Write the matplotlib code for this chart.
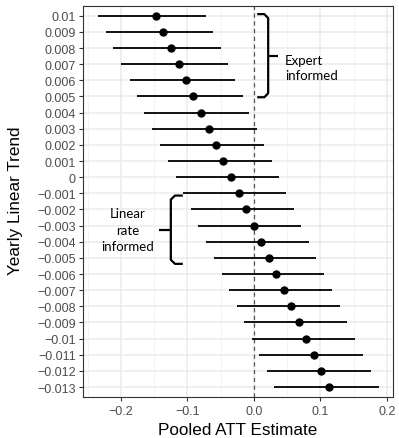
import numpy as np
import matplotlib
matplotlib.use("Agg")
import matplotlib.pyplot as plt

# =========================
# data (top row first)
# =========================
trend_labels = ["0.01", "0.009", "0.008", "0.007", "0.006", "0.005", "0.004",
                "0.003", "0.002", "0.001", "0", "\u22120.001", "\u22120.002",
                "\u22120.003", "\u22120.004", "\u22120.005", "\u22120.006",
                "\u22120.007", "\u22120.008", "\u22120.009", "\u22120.01",
                "\u22120.011", "\u22120.012", "\u22120.013"]

att_est = [-0.147, -0.136, -0.125, -0.113, -0.102, -0.091, -0.0795,
           -0.0675, -0.057, -0.046, -0.0345, -0.023, -0.0115,
           0.0, 0.011, 0.0225, 0.0335, 0.045, 0.056, 0.0675,
           0.079, 0.090, 0.1015, 0.1125]

att_low = [-0.235, -0.223, -0.212, -0.1995, -0.187, -0.176, -0.1645,
           -0.1525, -0.141, -0.129, -0.117, -0.1064, -0.095,
           -0.0835, -0.072, -0.060, -0.048, -0.037, -0.0255, -0.0145,
           -0.0025, 0.008, 0.020, 0.031]

att_high = [-0.0725, -0.061, -0.050, -0.0395, -0.0285, -0.017, -0.007,
            0.0045, 0.0155, 0.027, 0.0375, 0.0485, 0.060,
            0.0715, 0.0825, 0.094, 0.1055, 0.117, 0.129, 0.1405,
            0.152, 0.1635, 0.1755, 0.188]

x_ticks = [-0.2, -0.1, 0.0, 0.1, 0.2]
x_tick_labels = ["\u22120.2", "\u22120.1", "0.0", "0.1", "0.2"]

# =========================
# figure
# =========================
plt.rcParams["font.family"] = ["Liberation Sans", "DejaVu Sans"]

fig = plt.figure(figsize=(3.99, 4.39), dpi=100)
ax = fig.add_axes([0.2088, 0.094, 0.777, 0.890])

n = len(trend_labels)
ypos = np.arange(n)[::-1]  # top row first

# grid (theme_bw style)
for xm in [-0.25, -0.15, -0.05, 0.05, 0.15]:
    ax.axvline(xm, color="#F2F2F2", lw=0.6, zorder=0)
for xg in x_ticks:
    ax.axvline(xg, color="#EBEBEB", lw=1.1, zorder=0)
for yy in ypos:
    ax.axhline(yy, color="#EBEBEB", lw=1.1, zorder=0)

# zero reference line
ax.axvline(0, color="#555555", lw=0.9, linestyle=(0, (3.4, 2.8)), zorder=1)

# point ranges
ax.hlines(ypos, att_low, att_high, color="black", lw=1.3, zorder=2)
ax.plot(att_est, ypos, "o", color="black", markersize=5, zorder=3)

ax.set_xlim(-0.2565, 0.2097)
ax.set_ylim(-0.6, n - 1 + 0.6)
ax.set_yticks(ypos)
ax.set_yticklabels(trend_labels)
ax.set_xticks(x_ticks)
ax.set_xticklabels(x_tick_labels)

ax.tick_params(axis="both", labelsize=9, labelcolor="#4D4D4D",
               color="#333333", length=3, width=0.8)
ax.tick_params(axis="y", pad=2.5)
ax.tick_params(axis="x", pad=3)
for sp in ax.spines.values():
    sp.set_color("#333333")
    sp.set_linewidth(0.8)


# =========================
# braces
# =========================
def brace(x_end, x_v, x_tip, top, bot, tip):
    dx = (x_v - x_end) * 0.35
    dy = 0.25
    xs = [x_end, x_v - dx, x_v, x_v, x_v - dx, x_end]
    ys = [top, top, top - dy, bot + dy, bot, bot]
    ax.plot(xs, ys, color="black", lw=1.6, solid_joinstyle="round",
            solid_capstyle="butt", zorder=4)
    ax.plot([x_v, x_tip], [tip, tip], color="black", lw=1.6,
            solid_capstyle="butt", zorder=4)


brace(0.005, 0.0215, 0.0365, 23.1, 17.95, 20.52)
brace(-0.1069, -0.1249, -0.142, 11.86, 7.63, 9.7)

ax.text(0.0465, 19.78, "Expert\ninformed", ha="left", va="center",
        fontsize=9.5, family=["Lato", "DejaVu Sans"], linespacing=1.25,
        zorder=5)
ax.text(-0.1894, 9.74, "Linear\nrate\ninformed", ha="center", va="center",
        fontsize=9.5, family=["Lato", "DejaVu Sans"], linespacing=1.45,
        zorder=5)

# axis titles
fig.text(238 / 399, 1 - 431 / 439, "Pooled ATT Estimate", ha="center",
         va="center", fontsize=12.3)
fig.text(16 / 399, 1 - 201 / 439, "Yearly Linear Trend", ha="center",
         va="center", rotation=90, fontsize=12.3)

fig.savefig("out.png", dpi=100)
